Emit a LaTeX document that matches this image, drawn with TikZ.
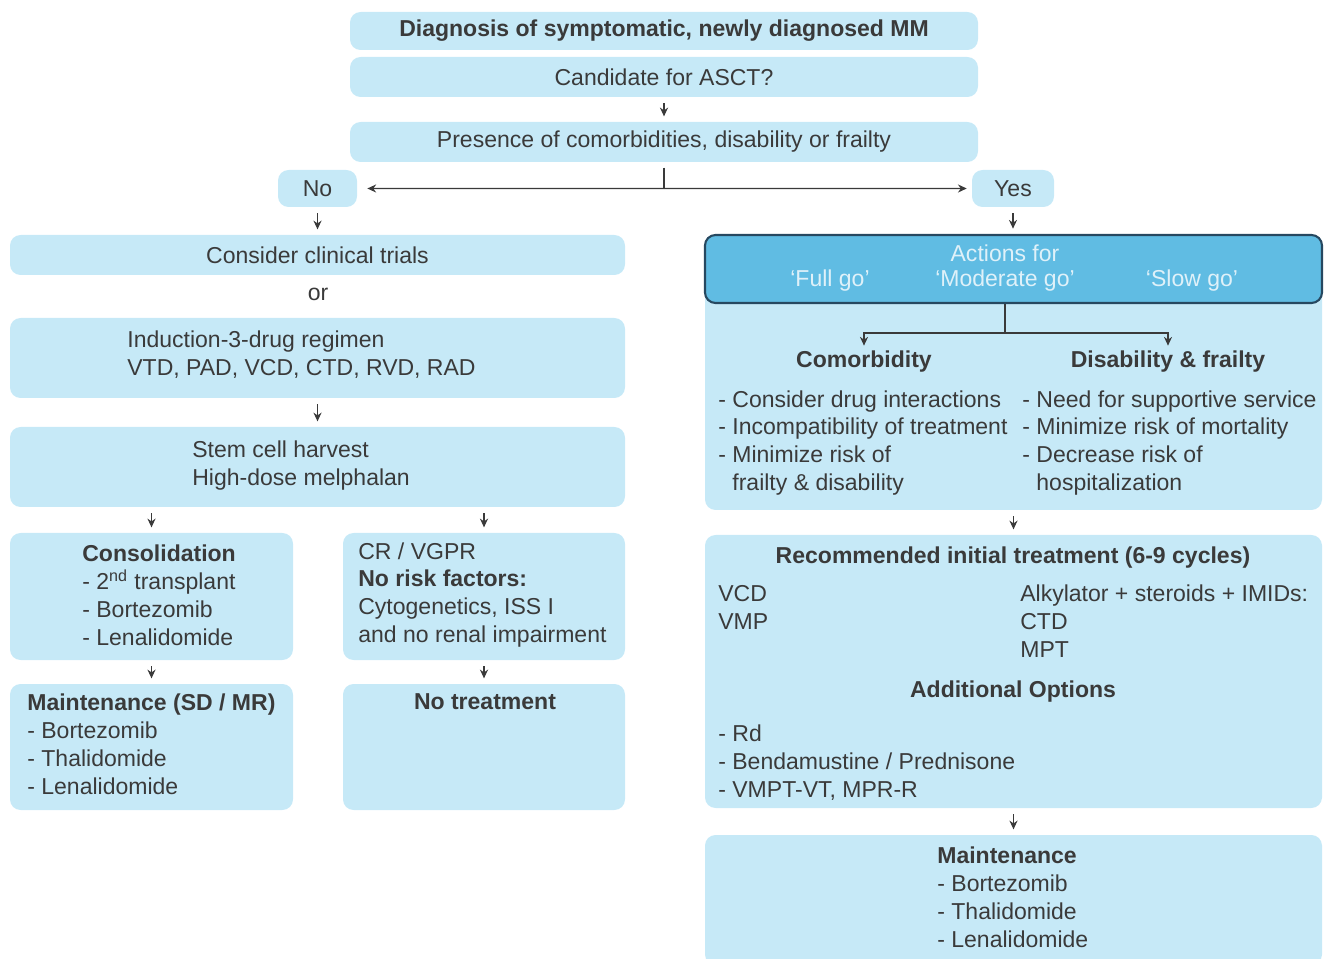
\documentclass[tikz,border=0pt]{standalone}
\usepackage{fontspec}
\setmainfont{Liberation Sans}
\usepackage{tikz}
\usetikzlibrary{arrows.meta,fit}
\definecolor{boxblue}{RGB}{198,233,247}
\definecolor{headblue}{RGB}{96,188,227}
\definecolor{headline}{RGB}{38,72,96}
\definecolor{ink}{RGB}{58,58,58}

\begin{document}
\begin{tikzpicture}[x=0.02cm,y=-0.02cm,
	font=\fontsize{13.1}{15.9}\selectfont,
	box/.style={fill=boxblue,rounded corners=6pt,inner sep=0pt},
	txt/.style={inner sep=0pt,text=ink,align=left},
	boldtxt/.style={font=\fontsize{13.1}{15.9}\selectfont\bfseries},
	conn/.style={color=ink,line width=0.7pt},
	arr/.style={-{Stealth[length=5pt,width=4.6pt]},color=ink,line width=0.7pt,shorten <=3.4pt,shorten >=3pt}]
		\useasboundingbox (0,0) rectangle (1333,959);
		% top of the chart
		\node[box,fit={(350,12) (978,50)}] (diag) {};
		\node[txt,boldtxt] (diagtxt) at (diag) {Diagnosis of symptomatic, newly diagnosed MM};
		\node[box,fit={(350,57) (978,97)}] (asct) {};
		\node[txt] (ascttxt) at (asct) {Candidate for ASCT?};
		\node[box,fit={(350,122) (978,162)}] (presence) {};
		\node[txt] (presencetxt) at (presence) {Presence of comorbidities, disability or frailty};
		\node[box,fit={(278,170) (357,207)}] (no) {};
		\node[txt] (notxt) at (no) {No};
		\node[box,fit={(972,170) (1054,207)}] (yes) {};
		\node[txt] (yestxt) at (yes) {Yes};
		\draw[arr] (asct) -- (asct |- presence.north);
		\coordinate (fork) at (664,188.5);
		\draw[conn,shorten <=3pt] (presence.south -| fork) -- (fork);
		\draw[arr,shorten <=0pt,shorten >=5.7pt] (fork) -- (no);
		\draw[arr,shorten <=0pt,shorten >=2.8pt] (fork) -- (yes);
		% no: transplant branch
		\node[box,fit={(10,235) (625,275)}] (trials) {};
		\node[txt] (trialstxt) at (trials) {Consider clinical trials};
		\node[txt] (or) at (318,294) {or};
		\node[box,fit={(10,318) (625,398)}] (induction) {};
		\node[txt,anchor=west] (inductiontxt) at (127,355) {Induction-3-drug regimen\\VTD, PAD, VCD, CTD, RVD, RAD};
		\node[box,fit={(10,427) (625,507)}] (harvest) {};
		\node[txt,anchor=west] (harvesttxt) at (192,466) {Stem cell harvest\\High-dose melphalan};
		\node[box,fit={(10,533) (293,660)}] (consol) {};
		\node[txt,anchor=west] (consoltxt) at (82,595) {\textbf{Consolidation}\\- 2\textsuperscript{nd} transplant\\- Bortezomib\\- Lenalidomide};
		\node[box,fit={(343,533) (625,660)}] (cr) {};
		\node[txt,anchor=west] (crtxt) at (358,595) {CR / VGPR\\\textbf{No risk factors:}\\Cytogenetics, ISS I\\and no renal impairment};
		\node[box,fit={(10,684) (293,810)}] (maintsd) {};
		\node[txt,anchor=west] (maintsdtxt) at (27,744) {\textbf{Maintenance (SD / MR)}\\- Bortezomib\\- Thalidomide\\- Lenalidomide};
		\node[box,fit={(343,684) (625,810)}] (notreat) {};
		\node[txt,boldtxt] (notreattxt) at (485,702) {No treatment};
		\draw[arr] (no.south) -- (no.south |- trials.north);
		\draw[arr] (induction) -- (harvest);
		\draw[arr] (harvest.south -| consol) -- (consol);
		\draw[arr] (harvest.south -| cr) -- (cr);
		\draw[arr] (consol) -- (maintsd);
		\draw[arr] (cr) -- (notreat);
		% yes: no transplant branch
		\node[box,fit={(705,270) (1322,510)}] (profile) {};
		\node[box,fill=headblue,draw=headline,line width=1.2pt,fit={(705,235) (1322,303)}] (actions) {};
		\node[txt,text=white!80!headblue] (actionstxt) at (1005,253) {Actions for};
		\node[txt,text=white!80!headblue] (fullgo) at (830,281) {‘Full go’};
		\node[txt,text=white!80!headblue] (modgo) at (1005,281) {‘Moderate go’};
		\node[txt,text=white!80!headblue] (slowgo) at (1192,281) {‘Slow go’};
		\draw[arr] (yes.south) -- (yes.south |- actions.north);
		\coordinate (split) at (1005,333);
		\node[txt,boldtxt] (comorb) at (864,362) {Comorbidity};
		\node[txt,boldtxt] (disab) at (1168,362) {Disability \& frailty};
		\draw[conn] (actions.south -| split) -- (split);
		\draw[arr,shorten <=0pt] (split) -| (comorb);
		\draw[arr,shorten <=0pt] (split) -| (disab);
		\node[txt,anchor=west] (comorblist) at (718,443) {- Consider drug interactions\\- Incompatibility of treatment\\- Minimize risk of\\\phantom{- }frailty \& disability};
		\node[txt,anchor=west] (disablist) at (1022,443) {- Need for supportive service\\- Minimize risk of mortality\\- Decrease risk of\\\phantom{- }hospitalization};
		\node[box,fit={(705,535) (1322,808)}] (rec) {};
		\node[txt,boldtxt] (rectitle) at (1013,558) {Recommended initial treatment (6-9 cycles)};
		\node[txt,anchor=west] (vcd) at (718,607) {VCD\\VMP};
		\node[txt,anchor=west] (alky) at (1020,621) {Alkylator + steroids + IMIDs:\\CTD\\MPT};
		\node[txt,boldtxt] (addopt) at (1013,692) {Additional Options};
		\node[txt,anchor=west] (addlist) at (718,763) {- Rd\\- Bendamustine / Prednisone\\- VMPT-VT, MPR-R};
		\node[box,fit={(705,835) (1322,965)}] (maint) {};
		\node[txt,anchor=west] (mainttxt) at (937,897) {\textbf{Maintenance}\\- Bortezomib\\- Thalidomide\\- Lenalidomide};
		\draw[arr] (profile.south -| rec) -- (rec);
		\draw[arr] (rec) -- (maint);
	\end{tikzpicture}
\end{document}
